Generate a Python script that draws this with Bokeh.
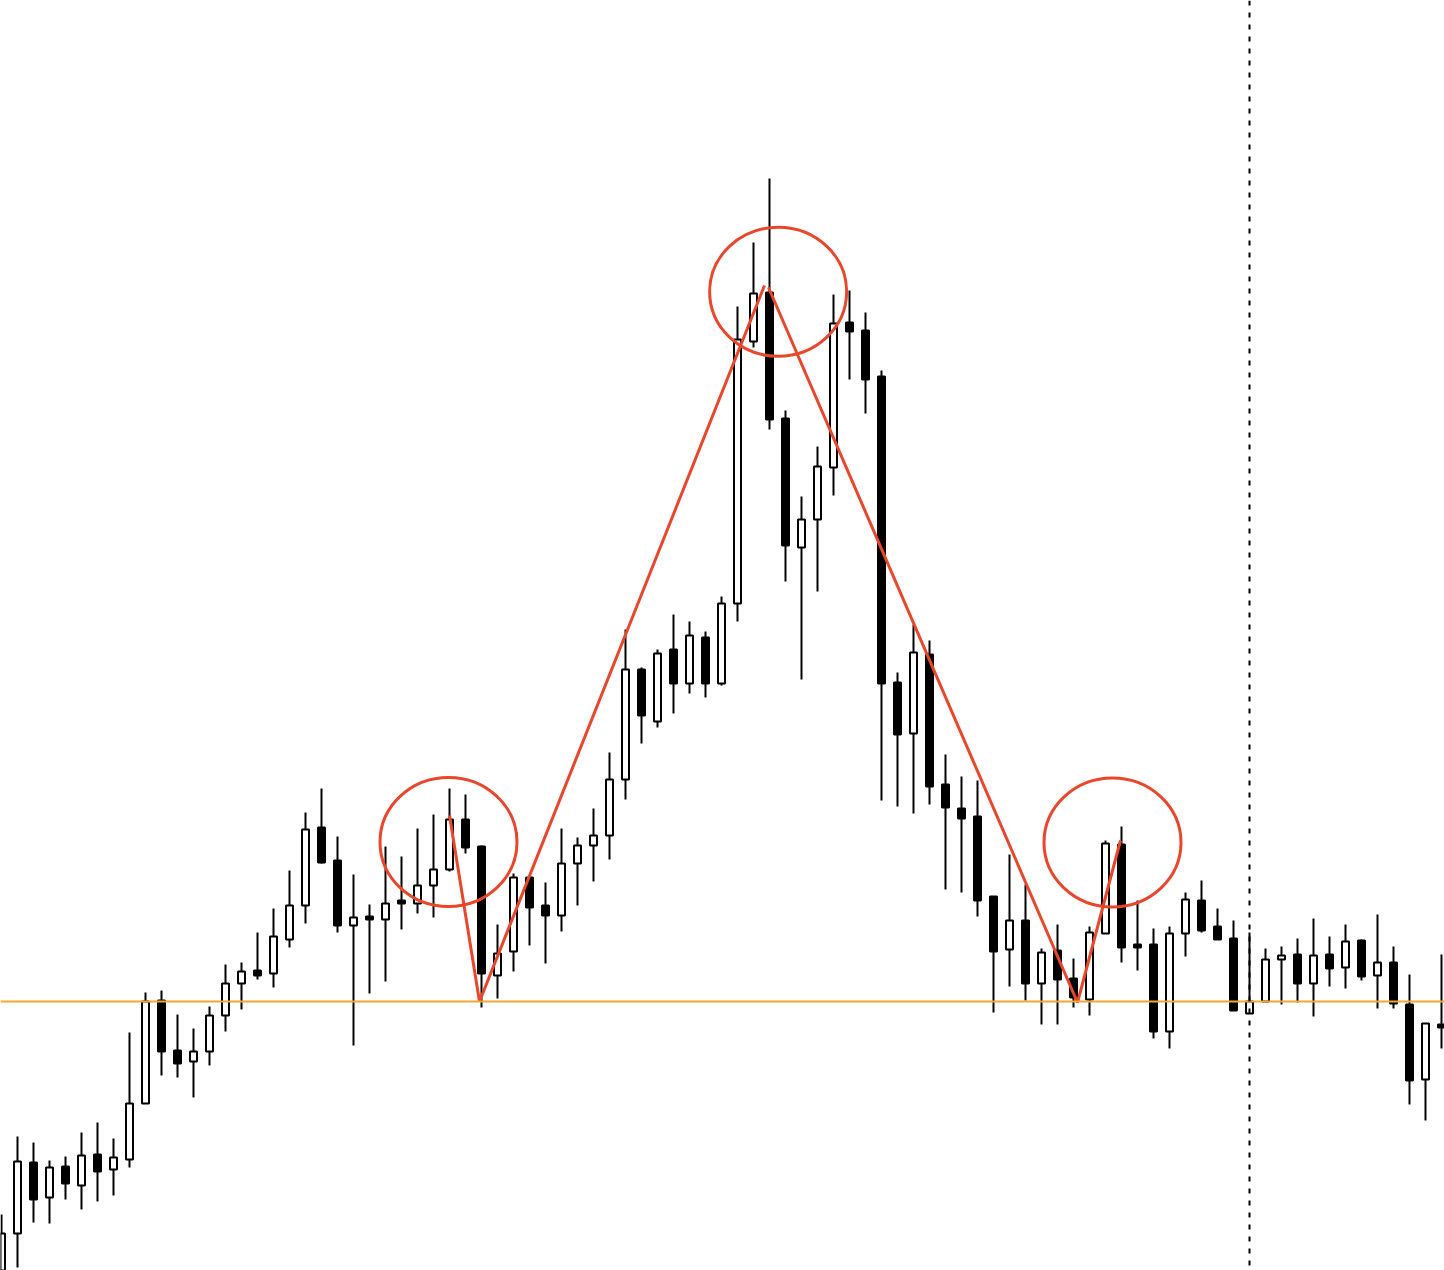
from bokeh.plotting import figure
from bokeh.models import Range1d, ColumnDataSource, Span
from bokeh.embed import file_html
from bokeh.resources import INLINE

# ---- OHLC data (bar index 0..90) ----
opens = [1.0110, 1.0167, 1.0238, 1.0203, 1.0234, 1.0215, 1.0246, 1.0231, 1.0241, 1.0297,
         1.0400, 1.0350, 1.0339, 1.0349, 1.0385, 1.0417, 1.0430, 1.0427, 1.0461, 1.0495,
         1.0573, 1.0540, 1.0475, 1.0484, 1.0481, 1.0500, 1.0497, 1.0515, 1.0531, 1.0581,
         1.0554, 1.0425, 1.0449, 1.0523, 1.0495, 1.0485, 1.0537, 1.0555, 1.0565, 1.0621,
         1.0731, 1.0679, 1.0751, 1.0717, 1.0763, 1.0717, 1.0797, 1.1059, 1.1108, 1.0982,
         1.0853, 1.0881, 1.0933, 1.1078, 1.1070, 1.1024, 1.0718, 1.0667, 1.0746, 1.0616,
         1.0592, 1.0584, 1.0504, 1.0451, 1.0480, 1.0417, 1.0450, 1.0422, 1.0401, 1.0467,
         1.0556, 1.0456, 1.0456, 1.0369, 1.0467, 1.0500, 1.0474, 1.0462, 1.0387, 1.0399,
         1.0441, 1.0446, 1.0417, 1.0446, 1.0433, 1.0460, 1.0425, 1.0438, 1.0396, 1.0321,
         1.0376]
highs = [1.0186, 1.0264, 1.0258, 1.0240, 1.0244, 1.0268, 1.0278, 1.0262, 1.0368, 1.0408,
         1.0410, 1.0386, 1.0372, 1.0394, 1.0436, 1.0438, 1.0468, 1.0492, 1.0530, 1.0588,
         1.0612, 1.0564, 1.0526, 1.0496, 1.0554, 1.0544, 1.0572, 1.0586, 1.0612, 1.0606,
         1.0555, 1.0476, 1.0527, 1.0524, 1.0518, 1.0572, 1.0563, 1.0592, 1.0648, 1.0771,
         1.0733, 1.0751, 1.0786, 1.0779, 1.0769, 1.0804, 1.1094, 1.1158, 1.1222, 1.0990,
         1.0904, 1.0954, 1.1106, 1.1110, 1.1088, 1.1030, 1.0728, 1.0776, 1.0760, 1.0646,
         1.0624, 1.0620, 1.0504, 1.0546, 1.0516, 1.0452, 1.0476, 1.0442, 1.0474, 1.0560,
         1.0574, 1.0500, 1.0472, 1.0474, 1.0508, 1.0520, 1.0492, 1.0480, 1.0468, 1.0452,
         1.0454, 1.0462, 1.0482, 1.0464, 1.0476, 1.0461, 1.0486, 1.0454, 1.0426, 1.0377,
         1.0446]
lows = [1.0100, 1.0133, 1.0178, 1.0177, 1.0201, 1.0191, 1.0199, 1.0205, 1.0233, 1.0297,
        1.0325, 1.0323, 1.0303, 1.0335, 1.0369, 1.0391, 1.0421, 1.0413, 1.0453, 1.0477,
        1.0537, 1.0468, 1.0355, 1.0407, 1.0419, 1.0471, 1.0487, 1.0483, 1.0529, 1.0547,
        1.0393, 1.0402, 1.0429, 1.0455, 1.0437, 1.0469, 1.0495, 1.0519, 1.0541, 1.0601,
        1.0657, 1.0673, 1.0687, 1.0707, 1.0703, 1.0715, 1.0779, 1.1053, 1.0971, 1.0819,
        1.0721, 1.0809, 1.0905, 1.1021, 1.0987, 1.0600, 1.0594, 1.0587, 1.0596, 1.0511,
        1.0508, 1.0484, 1.0388, 1.0414, 1.0400, 1.0376, 1.0376, 1.0393, 1.0385, 1.0467,
        1.0438, 1.0430, 1.0362, 1.0352, 1.0444, 1.0468, 1.0461, 1.0390, 1.0387, 1.0399,
        1.0396, 1.0398, 1.0384, 1.0414, 1.0412, 1.0420, 1.0392, 1.0392, 1.0296, 1.0280,
        1.0352]
closes = [1.0167, 1.0239, 1.0201, 1.0233, 1.0217, 1.0245, 1.0229, 1.0243, 1.0297, 1.0399,
          1.0349, 1.0337, 1.0349, 1.0385, 1.0417, 1.0429, 1.0425, 1.0464, 1.0495, 1.0571,
          1.0538, 1.0475, 1.0483, 1.0481, 1.0497, 1.0497, 1.0515, 1.0531, 1.0581, 1.0553,
          1.0427, 1.0447, 1.0523, 1.0493, 1.0485, 1.0537, 1.0555, 1.0565, 1.0621, 1.0731,
          1.0685, 1.0747, 1.0717, 1.0765, 1.0717, 1.0797, 1.1061, 1.1107, 1.0981, 1.0855,
          1.0881, 1.0934, 1.1077, 1.1069, 1.1021, 1.0717, 1.0666, 1.0748, 1.0614, 1.0593,
          1.0582, 1.0500, 1.0449, 1.0480, 1.0417, 1.0448, 1.0421, 1.0403, 1.0468, 1.0557,
          1.0453, 1.0453, 1.0369, 1.0467, 1.0501, 1.0470, 1.0461, 1.0390, 1.0399, 1.0441,
          1.0445, 1.0417, 1.0445, 1.0432, 1.0459, 1.0424, 1.0438, 1.0397, 1.0320, 1.0377,
          1.0373]

# ---- annotations ----
level_price = 1.0399            # orange horizontal level
marker_bar = 78                 # dashed vertical marker
zig1_x = [28.0, 29.875, 47.6875]
zig1_y = [1.0585, 1.0399, 1.1115]
zig2_x = [47.9375, 67.25, 69.9375]
zig2_y = [1.1113, 1.0398, 1.0560]
ring_x = [27.9375, 48.54, 69.4375]
ring_y = [1.05585, 1.11087, 1.0558]
ring_w = 8.5625     # in bars
ring_h = 0.0129     # in price

RED = "#E8472C"
ORANGE = "#F5A733"

n = len(opens)
idx = list(range(n))
tops = [max(o, c) for o, c in zip(opens, closes)]
bots = [min(o, c) for o, c in zip(opens, closes)]
fills = ["white" if c >= o else "black" for o, c in zip(opens, closes)]
src = ColumnDataSource(dict(x=idx, high=highs, low=lows, top=tops, bottom=bots, fill=fills))

p = figure(width=1444, height=1270, output_backend="svg", toolbar_location=None,
           x_range=Range1d(-0.0625, 90.1875), y_range=Range1d(1.0130, 1.1400),
           min_border=0, background_fill_color="white", border_fill_color="white")
p.xaxis.visible = False
p.yaxis.visible = False
p.grid.visible = False
p.outline_line_color = None

p.add_layout(Span(location=level_price, dimension="width", line_color=ORANGE, line_width=2))

p.segment(x0="x", y0="high", x1="x", y1="low", source=src, line_color="black", line_width=2)
p.vbar(x="x", width=0.4375, top="top", bottom="bottom", source=src,
       fill_color="fill", line_color="black", line_width=2)

p.add_layout(Span(location=marker_bar, dimension="height", line_color="black",
                  line_width=2, line_dash="5 7"))

p.multi_line(xs=[zig1_x, zig2_x], ys=[zig1_y, zig2_y], line_color=RED, line_width=3)
p.ellipse(x=ring_x, y=ring_y, width=ring_w, height=ring_h, fill_color=None,
          line_color=RED, line_width=3)

open("out.html", "w").write(file_html(p, INLINE))
